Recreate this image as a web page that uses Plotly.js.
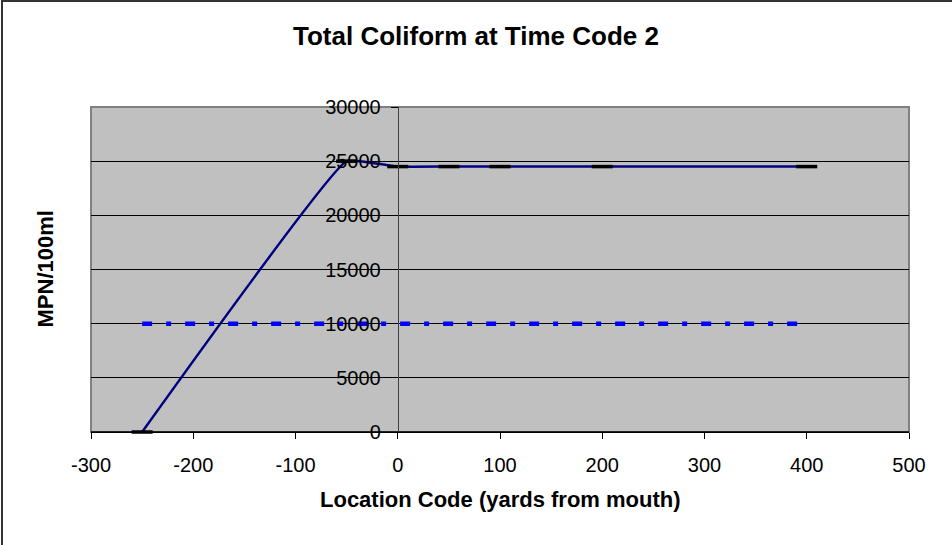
<!DOCTYPE html>
<html>
<head>
<meta charset="utf-8">
<script src="https://cdn.plot.ly/plotly-3.0.1.min.js"></script>
<style>
  html, body { margin: 0; padding: 0; background: #fff; }
  #wrap { position: relative; width: 952px; height: 545px; overflow: hidden; }
  #chart { position: absolute; left: 0; top: 0; width: 952px; height: 545px; }
  #bl { position: absolute; left: 1px; top: 0; width: 2px; height: 545px; background: #333; }
  #bt { position: absolute; left: 1px; top: 0; width: 951px; height: 2px; background: #333; }
</style>
</head>
<body>
<div id="wrap">
  <div id="chart"></div>
  <div id="bl"></div>
  <div id="bt"></div>
</div>
<script>
// Data
const locationCodes = [-250, -50, 0, 50, 100, 200, 400];
const coliformValues = [0, 25000, 24500, 24500, 24500, 24500, 24500];
const standardX = [-250, 400];
const standardY = [10000, 10000];
const xTicks = [-300, -200, -100, 0, 100, 200, 300, 400, 500];
const xTickLabels = ['-300', '-200', '-100', '0', '100', '200', '300', '400', '500'];
const yTicks = [0, 5000, 10000, 15000, 20000, 25000, 30000];
const yTickLabels = ['0', '5000', '10000', '15000', '20000', '25000', '30000'];

const FONT = 'Liberation Sans, Arial, sans-serif';

const traces = [
  {
    x: standardX, y: standardY, type: 'scatter', mode: 'lines',
    line: { color: '#0000FF', width: 4.5, dash: '10px,14px,5px,14px' },
    hoverinfo: 'skip', showlegend: false
  },
  {
    x: locationCodes, y: coliformValues, type: 'scatter', mode: 'lines+markers',
    cliponaxis: false,
    line: { color: '#000080', width: 2.5, shape: 'spline', smoothing: 0.3 },
    marker: { symbol: 'line-ew', size: 15, color: '#000000', line: { color: '#000000', width: 3.5 } },
    hoverinfo: 'skip', showlegend: false
  }
];

const layout = {
  width: 952, height: 545,
  margin: { l: 91, r: 43, t: 107, b: 113, pad: 0 },
  paper_bgcolor: '#FFFFFF',
  plot_bgcolor: '#C0C0C0',
  font: { family: FONT, size: 20, color: '#000' },
  title: {
    text: '<b>Total Coliform at Time Code 2</b>',
    x: 0.5, xref: 'container', xanchor: 'center',
    y: 1 - 36 / 545, yref: 'container', yanchor: 'middle',
    font: { size: 26, family: FONT, color: '#000' }
  },
  xaxis: {
    range: [-300, 500], domain: [0, 1],
    tickmode: 'array', tickvals: xTicks, ticktext: xTickLabels,
    ticks: 'outside', ticklen: 6, tickcolor: '#000', tickwidth: 1,
    ticklabelstandoff: 9,
    showline: true, linecolor: '#000', linewidth: 1,
    showgrid: false, zeroline: false,
    tickfont: { size: 20 },
    title: { text: '' }
  },
  yaxis: {
    range: [0, 30000],
    anchor: 'free', position: 0.375,
    tickmode: 'array', tickvals: yTicks, ticktext: yTickLabels,
    ticks: 'outside', ticklen: 7, tickcolor: '#000', tickwidth: 1,
    ticklabelstandoff: 6,
    showline: true, linecolor: '#404040', linewidth: 1,
    showgrid: true, gridcolor: '#000000', gridwidth: 1,
    zeroline: false,
    tickfont: { size: 20 },
    title: { text: '' }
  },
  shapes: [
    { type: 'rect', xref: 'paper', yref: 'paper', x0: 0, x1: 1, y0: 0, y1: 1,
      line: { color: '#808080', width: 2 }, fillcolor: 'rgba(0,0,0,0)', layer: 'below' },
    { type: 'line', xref: 'paper', yref: 'paper', x0: 0, x1: 1, y0: 0, y1: 0,
      line: { color: '#000000', width: 1.5 }, layer: 'below' }
  ],
  annotations: [
    { text: '<b>MPN/100ml</b>', xref: 'paper', yref: 'paper',
      x: (45 - 91) / 818, y: 0.5, xanchor: 'center', yanchor: 'middle',
      textangle: -90, showarrow: false, font: { size: 22 } },
    { text: '<b>Location Code (yards from mouth)</b>', xref: 'paper', yref: 'paper',
      x: 0.5, y: -(500 - 432) / 325, xanchor: 'center', yanchor: 'middle',
      showarrow: false, font: { size: 22 } }
  ]
};

Plotly.newPlot('chart', traces, layout, { staticPlot: true, displayModeBar: false });
</script>
</body>
</html>
